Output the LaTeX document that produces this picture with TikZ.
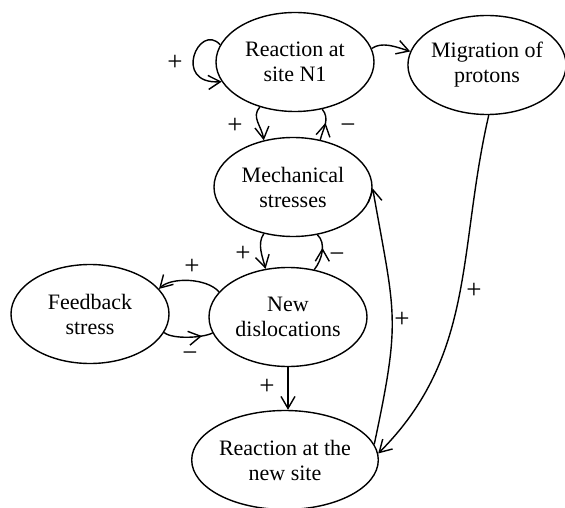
\documentclass[tikz,border=0pt]{standalone}
\usepackage{fontspec}
\setmainfont{Liberation Serif}
\usetikzlibrary{shapes.geometric,arrows.meta,decorations.markings}
\newcommand{\fsz}{\fontsize{22}{25}\selectfont}
\newcommand{\sgnsz}{\fontsize{27}{30}\selectfont}
\tikzset{
  box/.style={ellipse, draw, line width=1.4pt, minimum width=158pt, minimum height=99pt,
    inner sep=0pt, align=center, font=\fsz},
  arr/.style={line width=1.4pt, -{Straight Barb[length=12pt,width=14pt,line width=1.4pt]}},
  midarr/.style={line width=1.4pt, postaction={decorate},
    decoration={markings, mark=at position #1 with {\arrow{Straight Barb[length=12pt,width=14pt,line width=1.4pt]}}}},
  sgn/.style={font=\sgnsz, inner sep=0pt}
}
\begin{document}
\begin{tikzpicture}[x=1pt,y=1pt]
\useasboundingbox (0,0) rectangle (565,507);
\clip (0,0) rectangle (565,507);
% nodes
\node[box] (n1) at (295,445) {Reaction at\\site N1};
\node[box] (mp) at (487,442) {Migration of\\protons};
\node[box] (ms) at (293,320) {Mechanical\\stresses};
\node[box] (nd) at (288,190) {New\\dislocations};
\node[box] (fb) at (90,193) {Feedback\\stress};
\node[box] (ns) at (285,47) {Reaction at the\\new site};
% connectors
\draw[arr] (n1.167) .. controls +(-21,23) and +(-50,-3) .. (n1.195);
\draw[arr] (n1.10) .. controls +(10,7) and +(-15,5) .. (mp.170);
\draw[arr] (n1.232) .. controls +(-9,-10) and +(-2,14) .. (ms.122);
\draw[midarr=0.55] (ms.60) .. controls +(3,12) and +(8,-10) .. (n1.300);
\draw[arr] (ms.238) .. controls +(-7,-10) and +(-3,12) .. (nd.115);
\draw[midarr=0.62] (nd.61) .. controls +(8,10) and +(9,-8) .. (ms.297);
\draw[arr] (nd.160) .. controls +(-12,14) and +(12,12) .. (fb.20);
\draw[midarr=0.78] (fb.346) .. controls +(8,-7) and +(-10,-5) .. (nd.192);
\draw[arr] (nd.south) -- (nd.south |- ns.north);
\draw[arr] (mp.272) to[out=257,in=45] (ns.4);
\draw[arr] (ns.10) to[out=78,in=280,looseness=1.3] (ms.-1);
% signs
\node[sgn] (s1) at (175,444) {+};
\node[sgn] (s2) at (235,381) {+};
\node[sgn] (s3) at (348,378) {−};
\node[sgn] (s4) at (243,253) {+};
\node[sgn] (s5) at (337,249) {−};
\node[sgn] (s6) at (192,240) {+};
\node[sgn] (s7) at (190,150) {−};
\node[sgn] (s8) at (267,120) {+};
\node[sgn] (s9) at (474,216) {+};
\node[sgn] (s10) at (402,187) {+};
\end{tikzpicture}
\end{document}
